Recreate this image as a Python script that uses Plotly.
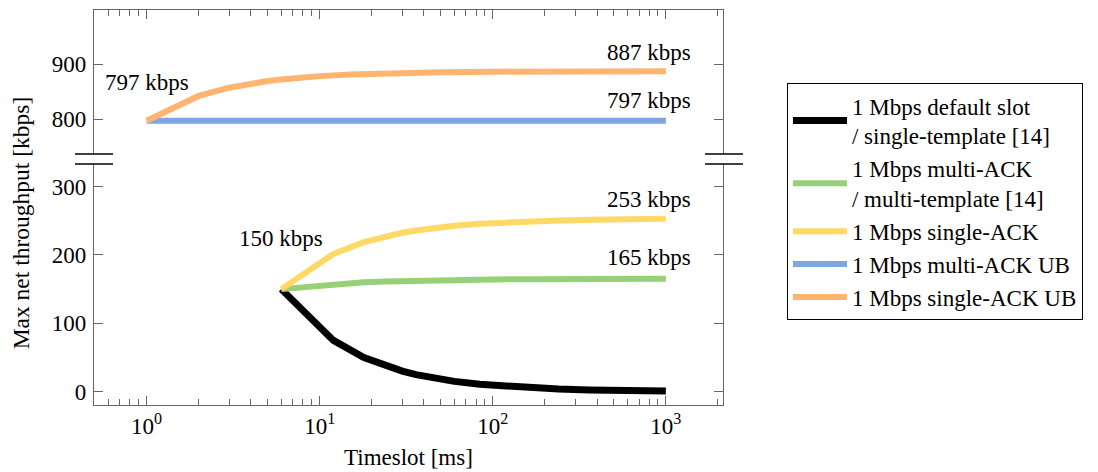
import plotly.graph_objects as go

# ---------------- data ----------------
x_upper = [1, 2, 3, 4, 5, 6, 8, 10, 15, 20, 30, 50, 100, 200, 500, 1000]
single_ack_ub = [797, 842, 857, 864.5, 869, 872, 875.8, 878, 881, 882.5, 884, 885.2, 886.1, 886.6, 886.8, 887]
multi_ack_ub = [797, 797, 797, 797, 797, 797, 797, 797, 797, 797, 797, 797, 797, 797, 797, 797]

x_lower = [6, 12, 18, 24, 30, 36, 48, 60, 84, 120, 180, 240, 360, 480, 600, 780, 1000]
default_slot = [150, 75, 50, 37.5, 30, 25, 18.8, 15, 10.7, 7.5, 5, 3.8, 2.5, 1.9, 1.5, 1.2, 0.9]
single_ack = [150, 201.5, 218.7, 227.3, 232.4, 235.8, 240.1, 242.7, 245.6, 247.9, 249.6, 250.4, 251.3, 251.7, 252, 252.5, 253]
multi_ack = [150, 157.5, 160, 161.3, 162, 162.5, 163.1, 163.5, 163.9, 164.3, 164.5, 164.6, 164.8, 164.8, 164.9, 164.9, 165]

names = ["1 Mbps default slot<br>/ single-template [14]",
         "1 Mbps multi-ACK<br>/ multi-template [14]",
         "1 Mbps single-ACK",
         "1 Mbps multi-ACK UB",
         "1 Mbps single-ACK UB"]
colors = ["#000000", "#97D077", "#FFD966", "#7EA6E0", "#FFB570"]
widths = [7, 6, 6, 6, 6]

x_tickvals = [1, 10, 100, 1000]
x_ticktext = ["10<sup>0</sup>", "10<sup>1</sup>", "10<sup>2</sup>", "10<sup>3</sup>"]
x_minor = [0.6, 0.7, 0.8, 0.9] + [m * d for d in (1, 10, 100) for m in range(2, 10)] + [2000]
upper_ticks = [800, 900]
lower_ticks = [0, 100, 200, 300]

FONT = "Liberation Serif"
AX = "#666666"
FS = 23

fig = go.Figure()
for nm, yv, c, w in [(names[0], default_slot, colors[0], widths[0]),
                     (names[1], multi_ack, colors[1], widths[1]),
                     (names[2], single_ack, colors[2], widths[2])]:
    fig.add_trace(go.Scatter(x=x_lower, y=yv, mode="lines", name=nm,
                             line=dict(color=c, width=w), xaxis="x", yaxis="y"))
fig.add_trace(go.Scatter(x=x_upper, y=multi_ack_ub, mode="lines", name=names[3],
                         line=dict(color=colors[3], width=widths[3]), xaxis="x2", yaxis="y2"))
fig.add_trace(go.Scatter(x=x_upper, y=single_ack_ub, mode="lines", name=names[4],
                         line=dict(color=colors[4], width=widths[4]), xaxis="x2", yaxis="y2"))

xr = [-0.304, 3.33]
common_x = dict(type="log", range=xr, showgrid=False, zeroline=False,
                linecolor=AX, linewidth=1.3, ticks="inside", ticklen=9, tickcolor=AX,
                tickvals=x_tickvals,
                minor=dict(ticks="inside", ticklen=6, tickcolor=AX, showgrid=False,
                           tickmode="array", tickvals=x_minor))
common_y = dict(showgrid=False, zeroline=False, linecolor=AX, linewidth=1.3,
                ticks="inside", ticklen=9, tickcolor=AX, mirror="ticks", showline=True,
                ticklabelstandoff=2,
                tickfont=dict(family=FONT, size=FS, color="black"))

fig.update_layout(
    width=1098, height=472,
    margin=dict(l=94, r=375, t=10, b=67),
    paper_bgcolor="white", plot_bgcolor="white",
    font=dict(family=FONT, size=FS, color="black"),
    xaxis=dict(**common_x, domain=[0, 1], anchor="y", showline=True, side="bottom",
               ticktext=x_ticktext, tickfont=dict(family=FONT, size=FS, color="black")),
    xaxis2=dict(**common_x, domain=[0, 1], anchor="y2", showline=True, side="top",
                showticklabels=False, matches="x"),
    yaxis=dict(**common_y, domain=[0, 0.6101], range=[-19.5, 333], tickvals=lower_ticks, anchor="x"),
    yaxis2=dict(**common_y, domain=[0.6354, 1], range=[736.4, 998.2], tickvals=upper_ticks, anchor="x2"),
    showlegend=True,
    legend=dict(x=1.1017, y=0.815, xanchor="left", yanchor="top",
                bordercolor="black", borderwidth=1, bgcolor="white",
                font=dict(family=FONT, size=FS, color="black"),
                itemwidth=54, tracegroupgap=0),
)

# axis break marks
for x0, x1 in [(-0.0302, 0.0302), (0.9714, 1.0318)]:
    for yy in [0.6354, 0.6101]:
        fig.add_shape(type="line", xref="paper", yref="paper", x0=x0, x1=x1, y0=yy, y1=yy,
                      line=dict(color="black", width=1.3))

# value labels
ann = [
    dict(x=0, y=867, xref="x2", yref="y2", text="797 kbps", xanchor="center"),
    dict(x=0.9523, y=921.8, xref="paper", yref="y2", text="887 kbps", xanchor="right"),
    dict(x=0.9523, y=834.5, xref="paper", yref="y2", text="797 kbps", xanchor="right"),
    dict(x=0.9523, y=280.7, xref="paper", yref="y", text="253 kbps", xanchor="right"),
    dict(x=0.9523, y=195.7, xref="paper", yref="y", text="165 kbps", xanchor="right"),
    dict(x=0.778, y=223.6, xref="x", yref="y", text="150 kbps", xanchor="center"),
]
for a in ann:
    fig.add_annotation(**a, yanchor="middle", showarrow=False,
                       font=dict(family=FONT, size=FS, color="black"))

# axis titles
fig.add_annotation(x=-0.116, y=0.46, xref="paper", yref="paper", text="Max net throughput [kbps]",
                   textangle=-90, showarrow=False, xanchor="center", yanchor="middle",
                   font=dict(family=FONT, size=23.5, color="black"))
fig.add_annotation(x=0.5, y=-0.134, xref="paper", yref="paper", text="Timeslot [ms]",
                   showarrow=False, xanchor="center", yanchor="middle",
                   font=dict(family=FONT, size=FS, color="black"))

fig.write_html("out.html", config={"displayModeBar": False},
               post_script="document.body.style.margin='0px';")
